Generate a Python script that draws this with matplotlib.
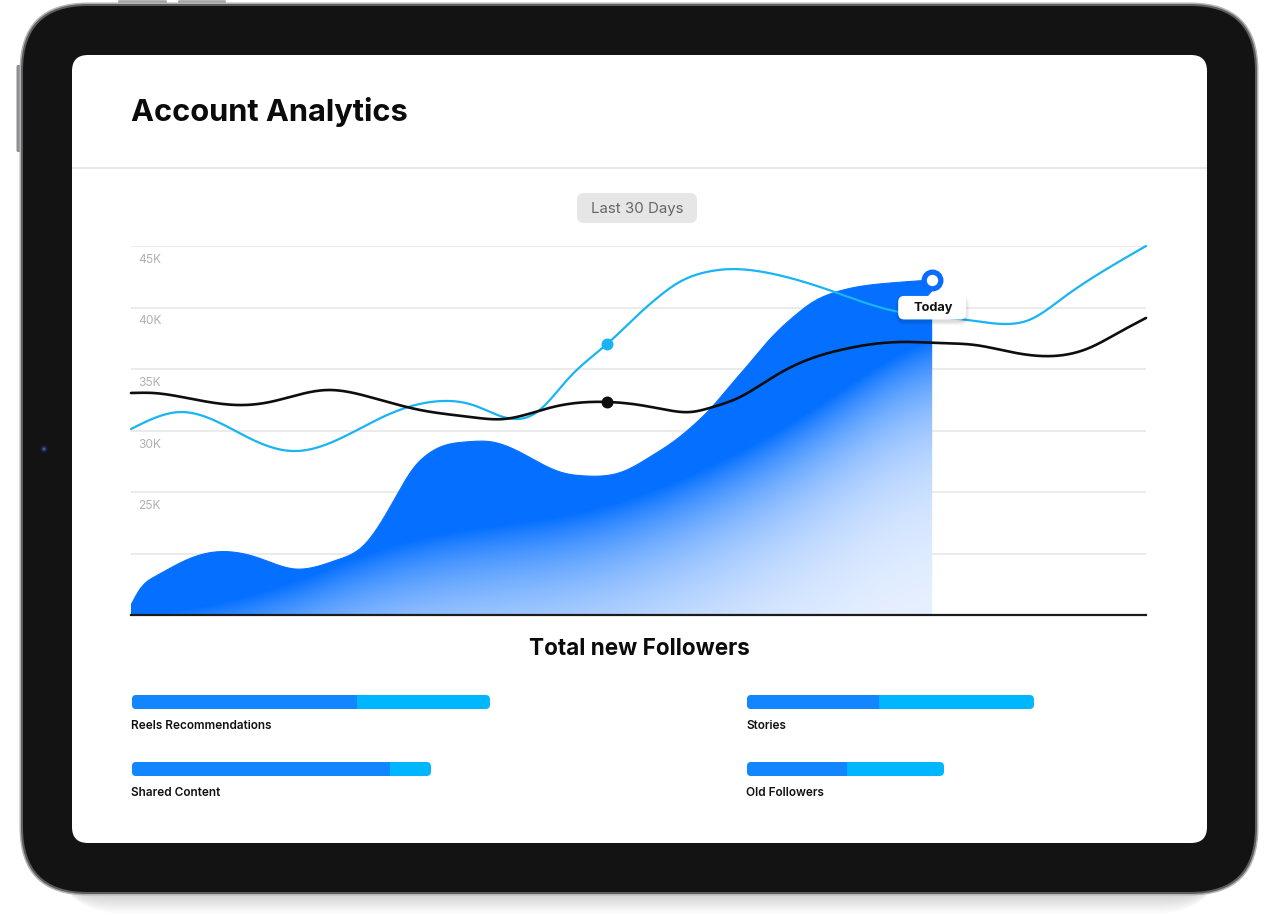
import numpy as np
import matplotlib
matplotlib.use("Agg")
import matplotlib.pyplot as plt
from matplotlib.patches import FancyBboxPatch, Circle, Polygon

# ---------------- data ----------------
# x = day within the "Last 30 Days" window, y = followers
area_days = [0.00, 0.27, 0.74, 1.51, 2.28, 3.78, 4.85, 6.09, 6.86, 7.36, 7.86, 8.31,
             8.78, 9.31, 9.90, 10.67, 11.76, 12.68, 13.45, 14.51, 15.34, 16.02, 16.73,
             17.20, 17.70, 18.21, 18.68, 19.18, 19.68, 20.16, 20.75, 21.46, 22.43, 23.68]
area_vals = [15810, 17110, 18170, 19310, 20040, 19630, 18740, 19470, 20610, 22400,
             24760, 26790, 28090, 28820, 29070, 29070, 27850, 26630, 26300, 26630,
             27850, 29070, 30690, 31990, 33620, 35240, 36790, 38250, 39470, 40450,
             41180, 41670, 41990, 42240]

cyan_days = [0.00, 1.45, 2.63, 3.61, 4.79, 6.09, 7.57, 9.22, 10.11, 11.11, 12.00, 12.97,
             14.07, 15.04, 15.55, 16.02, 16.52, 17.02, 17.50, 18.50, 19.48, 20.45,
             21.46, 22.43, 24.74, 25.80, 26.54, 27.58, 28.64, 30.00]
cyan_vals = [30120, 31500, 30610, 29230, 28330, 29230, 31260, 32400, 32070, 31020,
             31500, 34350, 37030, 39550, 40770, 41750, 42480, 42890, 43090, 42970,
             42400, 41590, 40610, 39800, 38980, 38660, 38980, 40850, 42800, 45000]

black_days = [0.00, 0.65, 1.66, 3.31, 4.11, 5.79, 7.06, 8.54, 10.02, 11.00, 12.47, 14.07,
              15.04, 15.84, 16.52, 17.20, 18.00, 18.98, 19.98, 20.96, 21.93, 22.94,
              23.91, 24.95, 26.01, 27.28, 28.32, 29.17, 30.00]
black_vals = [33050, 33050, 32640, 32070, 32320, 33290, 32720, 31670, 31100, 30930,
              31910, 32320, 32070, 31670, 31500, 31910, 32720, 34350, 35730, 36540,
              37030, 37200, 37110, 36950, 36380, 36060, 36710, 37930, 39150]

marker_day = 14.07
y_ticks = [25000, 30000, 35000, 40000, 45000]
y_tick_labels = ["25K", "30K", "35K", "40K", "45K"]
grid_levels = [20000, 25000, 30000, 35000, 40000, 45000]

sources_left = ["Reels Recommendations", "Shared Content"]
primary_left = [2250, 2580]
secondary_left = [1330, 410]
sources_right = ["Stories", "Old Followers"]
primary_right = [1320, 1000]
secondary_right = [1550, 970]

# ---------------- figure ----------------
W, H = 1278, 916
fig = plt.figure(figsize=(W / 100, H / 100), dpi=100)
fig.patch.set_facecolor("white")
FONT = ["Inter", "DejaVu Sans"]

bg = fig.add_axes([0, 0, 1, 1], zorder=0)
bg.set_xlim(0, W); bg.set_ylim(H, 0); bg.axis("off")

def rbox(ax, x0, y0, x1, y1, r, **kw):
    p = FancyBboxPatch((x0, y0), x1 - x0, y1 - y0,
                       boxstyle=f"round,pad=0,rounding_size={r}", **kw)
    ax.add_patch(p)
    return p

# soft shadow under device
for i in range(8):
    rbox(bg, 40 + i * 2, 20 + i * 2.2, 1238 - i * 2, 898 + i * 2.2, 70,
         facecolor="#000000", edgecolor="none", alpha=0.018)
# buttons
rbox(bg, 118, 0.2, 167, 6, 1.5, facecolor="#a4a4a6", edgecolor="none")
rbox(bg, 178, 0.2, 226, 6, 1.5, facecolor="#a4a4a6", edgecolor="none")
rbox(bg, 16.5, 65, 22, 152, 1.5, facecolor="#8e8e90", edgecolor="none")
# body
rbox(bg, 19.5, 2.5, 1258.5, 895.5, 68, facecolor="#b4b4b6", edgecolor="none")
rbox(bg, 21, 4, 1257, 894, 66.5, facecolor="#5e5e60", edgecolor="none")
rbox(bg, 23, 6, 1255, 892, 64.5, facecolor="#131313", edgecolor="none")
# camera
bg.add_patch(Circle((44, 449), 3.6, facecolor="#1a2138", edgecolor="none"))
bg.add_patch(Circle((44, 449), 1.6, facecolor="#3d5aa8", edgecolor="none"))
# screen
rbox(bg, 72, 55, 1207, 843, 16, facecolor="white", edgecolor="none")
bg.plot([72, 1207], [167.5, 167.5], color="#e4e4e4", lw=1.2, solid_capstyle="butt")

bg.text(131, 121, "Account Analytics", fontsize=22.2, fontweight="bold",
        color="#0b0b0b", family=FONT, va="baseline", ha="left")
rbox(bg, 577, 193, 697, 223, 7, facecolor="#e6e6e6", edgecolor="none")
bg.text(637, 212.5, "Last 30 Days", fontsize=10.8, color="#666666", family=FONT,
        va="baseline", ha="center")
bg.text(639, 655, "Total new Followers", fontsize=16.2, fontweight="bold",
        color="#0b0b0b", family=FONT, va="baseline", ha="center")

# ---------------- main chart ----------------
ax = fig.add_axes([131 / W, (H - 615) / H, 1015 / W, 369 / H], zorder=1)
ax.set_facecolor("none")
ax.set_xlim(0, 30)
ax.set_ylim(15000, 45000)
ax.axis("off")

def smooth(xs, ys, n=30):
    """natural cubic spline through the points (drawing only)"""
    x = np.asarray(xs, float); y = np.asarray(ys, float)
    N = len(x)
    h = np.diff(x)
    A = np.zeros((N, N)); b = np.zeros(N)
    A[0, 0] = 1; A[-1, -1] = 1
    for i in range(1, N - 1):
        A[i, i - 1] = h[i - 1]
        A[i, i] = 2 * (h[i - 1] + h[i])
        A[i, i + 1] = h[i]
        b[i] = 6 * ((y[i + 1] - y[i]) / h[i] - (y[i] - y[i - 1]) / h[i - 1])
    M = np.linalg.solve(A, b)
    X, Y = [], []
    for i in range(N - 1):
        xx = np.linspace(x[i], x[i + 1], n, endpoint=False)
        a = x[i + 1] - xx; c = xx - x[i]; hi = h[i]
        yy = (M[i] * a**3 / (6 * hi) + M[i + 1] * c**3 / (6 * hi)
              + (y[i] / hi - M[i] * hi / 6) * a + (y[i + 1] / hi - M[i + 1] * hi / 6) * c)
        X.append(xx); Y.append(yy)
    X.append([x[-1]]); Y.append([y[-1]])
    return np.concatenate(X), np.concatenate(Y)

for g in grid_levels:
    ax.axhline(g, color="#e5e5e5", lw=1.1, zorder=0)
for v, lab in zip(y_ticks, y_tick_labels):
    ax.annotate(lab, xy=(0, v), xytext=(7, -17), textcoords="offset pixels",
                fontsize=8.6, color="#b0b0b0", family=FONT, va="baseline", ha="left",
                zorder=0.5)

# gradient area (solid at top, fading towards the lower right)
ax_s, ay_s = smooth(area_days, area_vals)
solid = np.array([5, 112, 255]) / 255.0
light = np.array([240, 245, 255]) / 255.0
x0, x1 = 0.0, area_days[-1]
y0, y1 = 15000.0, max(area_vals) + 800
nx, ny = 820, 380
GX, GY = np.meshgrid(np.linspace(x0, x1, nx), np.linspace(y0, y1, ny))
pts = ax.transData.transform(np.column_stack([GX.ravel(), GY.ravel()]))
px = pts[:, 0]; py = H - pts[:, 1]

def smooth_profile(cx, cy, win=141):
    g = np.arange(60, 1010)
    v = np.interp(g, cx, cy)
    k = np.ones(win) / win
    vs = np.convolve(np.pad(v, win // 2, mode="edge"), k, mode="valid")
    return g, vs

gx, yb_line = smooth_profile([131, 250, 404, 600, 740, 840, 932],
                             [618, 600, 538, 512, 455, 392, 328])
gx, wd_line = smooth_profile([131, 404, 600, 932], [70, 90, 88, 82])
yb = np.interp(px, gx, yb_line)
wd = np.interp(px, gx, wd_line)
s = 1 - np.exp(-np.clip(py - yb, 0, None) / wd)
img = solid[None, :] * (1 - s[:, None]) + light[None, :] * s[:, None]
img = img.reshape(ny, nx, 3)
im = ax.imshow(img, extent=(x0, x1, y0, y1), origin="lower", aspect="auto",
               interpolation="bilinear", zorder=1)
poly = Polygon(np.column_stack([np.r_[ax_s, ax_s[-1], ax_s[0]],
                                np.r_[ay_s, 15000, 15000]]),
               closed=True, facecolor="none", edgecolor="none")
ax.add_patch(poly)
im.set_clip_path(poly)
ax.plot(ax_s, ay_s, color=solid, lw=0.8, zorder=1.5)
ax.set_xlim(0, 30); ax.set_ylim(15000, 45000)

cx, cy = smooth(cyan_days, cyan_vals)
ax.plot(cx, cy, color="#18b4f3", lw=1.6, zorder=3, clip_on=False,
        solid_capstyle="round")
bx, by = smooth(black_days, black_vals)
ax.plot(bx, by, color="#0e0e0e", lw=1.9, zorder=4, clip_on=False,
        solid_capstyle="round")
ax.axhline(15000, color="#1c1c1c", lw=1.6, zorder=5, clip_on=False)

ci = cyan_days.index(marker_day)
bi = black_days.index(marker_day)
ax.plot([cyan_days[ci]], [cyan_vals[ci]], "o", ms=8.6, color="#18b4f3",
        mec="none", zorder=6, clip_on=False)
ax.plot([black_days[bi]], [black_vals[bi]], "o", ms=8.6, color="#0e0e0e",
        mec="none", zorder=6, clip_on=False)
ax.plot([area_days[-1]], [area_vals[-1]], "o", ms=12.0, mfc="white",
        mec="#0a6cff", mew=3.8, zorder=7, clip_on=False)

# tooltip (overlay in pixel coords, anchored at the "today" data point)
ov = fig.add_axes([0, 0, 1, 1], zorder=3)
ov.set_xlim(0, W); ov.set_ylim(H, 0); ov.axis("off"); ov.set_facecolor("none")
disp = ax.transData.transform((area_days[-1], area_vals[-1]))
tx, ty = ov.transData.inverted().transform(disp)
for k in range(4):
    rbox(ov, tx - 34 - k, ty + 17 - k + 2, tx + 34 + k, ty + 40 + k + 2, 6 + k,
         facecolor="#000000", edgecolor="none", alpha=0.035)
rbox(ov, tx - 34, ty + 16, tx + 34, ty + 39.5, 6, facecolor="white", edgecolor="none")
ov.add_patch(Polygon([[tx - 4.5, ty + 16.5], [tx, ty + 11.5], [tx + 4.5, ty + 16.5]],
                     closed=True, facecolor="white", edgecolor="none"))
ov.text(tx + 1, ty + 31.5, "Today", fontsize=9.2, fontweight="bold", color="#111111",
        family=FONT, ha="center", va="baseline")

# ---------------- source bars ----------------
dark_c = "#1186ff"
light_c = "#00b6ff"

def bar_column(left_px, names, prim, sec):
    axb = fig.add_axes([left_px / W, (H - 802.5) / H, 400 / W, 134 / H], zorder=2)
    axb.set_xlim(0, 4000); axb.set_ylim(1.5, -0.5); axb.axis("off")
    axb.set_facecolor("none")
    rows = np.arange(len(names))
    totals = [p + q for p, q in zip(prim, sec)]
    bh = 14 / 67.0
    asp = (1 / 67.0) / 10.0
    full = axb.barh(rows, totals, height=bh, color=light_c)
    part = axb.barh(rows, prim, height=bh, color=dark_c)
    for r_full, r_part in zip(full, part):
        x, y, w, h = r_full.get_x(), r_full.get_y(), r_full.get_width(), r_full.get_height()
        p1 = FancyBboxPatch((x, y), w, h, boxstyle="round,pad=0,rounding_size=45",
                            mutation_aspect=asp, facecolor=light_c, edgecolor="none")
        axb.add_patch(p1)
        p2 = FancyBboxPatch((x, y), w, h, boxstyle="round,pad=0,rounding_size=45",
                            mutation_aspect=asp, facecolor=dark_c, edgecolor="none")
        axb.add_patch(p2)
        p2.set_clip_path(r_part)
        r_full.set_visible(False)
        r_part.set_visible(False)
    for i, nm in enumerate(names):
        axb.annotate(nm, xy=(0, i), xytext=(-1, -27), textcoords="offset pixels",
                     fontsize=8.5, fontweight="semibold", color="#111111", family=FONT,
                     va="baseline", ha="left")

bar_column(132, sources_left, primary_left, secondary_left)
bar_column(747, sources_right, primary_right, secondary_right)

fig.savefig("out.png", dpi=100, facecolor="white")
